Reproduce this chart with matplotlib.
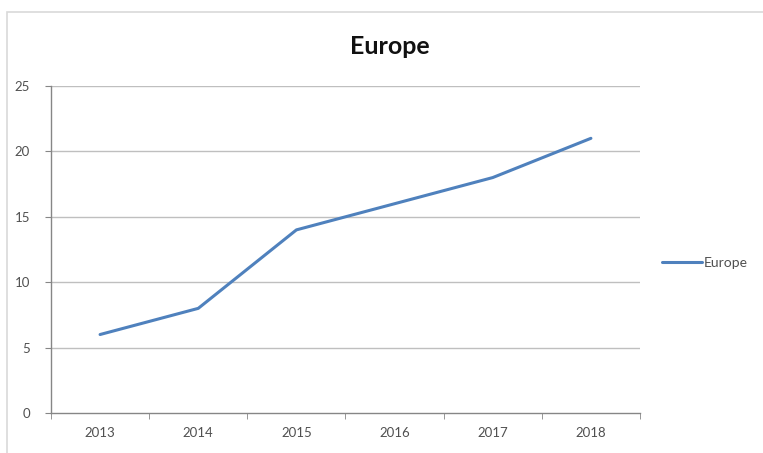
import matplotlib.pyplot as plt
from matplotlib.patches import Rectangle
import numpy as np

years = ["2013", "2014", "2015", "2016", "2017", "2018"]
europe = [6, 8, 14, 16, 18, 21]
y_ticks = [0, 5, 10, 15, 20, 25]

plt.rcParams['font.family'] = ['Lato', 'DejaVu Sans']
label_color = "#505050"
line_color = "#4F81BD"
font_size = 9.5

fig = plt.figure(figsize=(7.63, 4.53), dpi=100)
ax = fig.add_axes([51 / 763, 1 - 413 / 453, 589 / 763, 327 / 453])

# chart frame, running off the right and bottom edges
frame = Rectangle((7 / 763, -0.05), 1.1, 1 - 12 / 453 + 0.05, transform=fig.transFigure,
                  fill=False, edgecolor="#d9d9d9", linewidth=1.2, clip_on=False)
fig.patches.append(frame)

x = np.arange(len(years))
line, = ax.plot(x, europe, color=line_color, linewidth=2.2, solid_capstyle="round", label="Europe")

ax.set_xlim(-0.5, len(years) - 0.5)
ax.set_ylim(0, 25)
ax.set_yticks(y_ticks)
ax.set_yticklabels([str(v) for v in y_ticks], fontsize=font_size, color=label_color)
ax.set_xticks(x)
ax.set_xticklabels(years, fontsize=font_size, color=label_color)
ax.set_xticks(np.arange(-0.5, len(years)), minor=True)
ax.tick_params(axis="x", which="major", length=0, pad=10)
ax.tick_params(axis="x", which="minor", length=4, color="#868686", direction="out")
ax.tick_params(axis="y", length=4, color="#868686", direction="out", pad=11)

for v in y_ticks[1:]:
    ax.axhline(v, color="#bfbfbf", linewidth=1, zorder=0)

for side in ["top", "right"]:
    ax.spines[side].set_visible(False)
for side in ["left", "bottom"]:
    ax.spines[side].set_color("#868686")
    ax.spines[side].set_linewidth(1)

fig.text(390 / 763, 1 - 46 / 453, "Europe", fontsize=18, fontweight="bold",
         ha="center", va="center", color="#111111")

fig.legend(handles=[line], loc="center left", bbox_to_anchor=(649 / 763, 1 - 263 / 453),
           frameon=False, fontsize=10, handlelength=2.9, handletextpad=0.15, labelcolor=label_color)

fig.savefig("out.png", dpi=100)
